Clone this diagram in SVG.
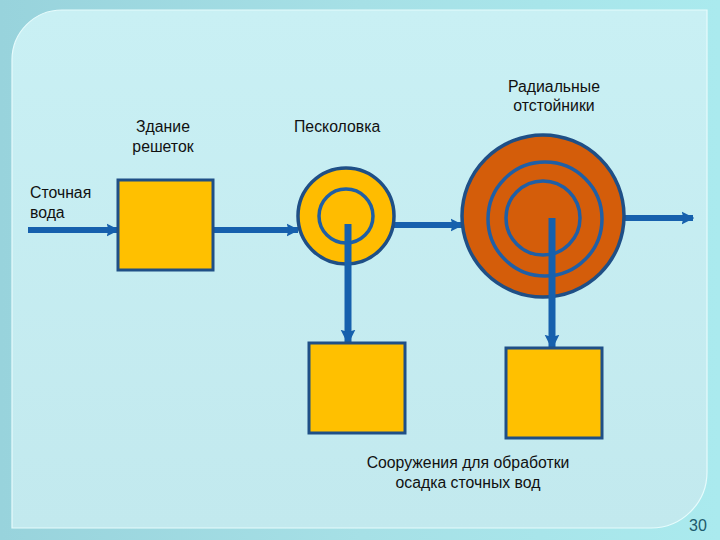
<svg xmlns="http://www.w3.org/2000/svg" width="720" height="540" viewBox="0 0 720 540">
<defs>
<linearGradient id="bg" x1="0" y1="0" x2="1" y2="0">
<stop offset="0" stop-color="#98d3dc"/>
<stop offset="0.5" stop-color="#a6e0e6"/>
<stop offset="1" stop-color="#aaeaee"/>
</linearGradient>
<linearGradient id="panel" x1="0" y1="0" x2="0" y2="1">
<stop offset="0" stop-color="#c9f0f4"/>
<stop offset="1" stop-color="#c2e9ee"/>
</linearGradient>
<marker id="ah" viewBox="0 0 10 10" refX="9" refY="5" markerWidth="2.1" markerHeight="2.4" orient="auto" markerUnits="strokeWidth">
<path d="M0,0 L10,5 L0,10 L1.5,5 Z" fill="#1660ad"/>
</marker>
</defs>
<style>
.t{font-family:"Liberation Sans",Arial,sans-serif;font-size:15.8px;fill:#111}
.box{fill:#ffc000;stroke:#1f4f86;stroke-width:3}
.pipe{stroke:#1660ad;stroke-width:6;fill:none}
.vpipe{stroke:#1660ad;stroke-width:7;fill:none}
.ring{fill:none;stroke:#1f5fa6;stroke-width:3.5}
</style>
<rect x="0" y="0" width="720" height="540" fill="url(#bg)"/>
<path d="M12,60 A50,50 0 0 1 62,10 L707,10 L707,472 A56,56 0 0 1 651,528 L12,528 Z" fill="url(#panel)" stroke="#e6fbfc" stroke-width="1.2"/>
<g id="connectors">
<line class="pipe" x1="28" y1="230" x2="118" y2="230" marker-end="url(#ah)"/>
<line class="pipe" x1="213" y1="230" x2="298" y2="230" marker-end="url(#ah)"/>
<line class="pipe" x1="394" y1="225" x2="462" y2="225" marker-end="url(#ah)"/>
<line class="pipe" x1="624" y1="218" x2="693" y2="218" marker-end="url(#ah)"/>
</g>
<g id="box-reshetok"><rect class="box" x="118" y="180" width="95" height="90"/></g>
<g id="peskolovka">
<circle cx="346" cy="216" r="48" fill="#ffbc00" stroke="#1f4f86" stroke-width="3.5"/>
<circle class="ring" cx="346" cy="216" r="27"/>
</g>
<g id="otstoiniki">
<circle cx="543" cy="216" r="81" fill="#d45d0a" stroke="#1f4f86" stroke-width="3.5"/>
<circle class="ring" cx="545" cy="219" r="57"/>
<circle class="ring" cx="543" cy="218" r="37"/>
</g>
<g id="connectors-down">
<line class="vpipe" x1="348" y1="224" x2="348" y2="343" marker-end="url(#ah)"/>
<line class="vpipe" x1="552" y1="218" x2="552" y2="348" marker-end="url(#ah)"/>
</g>
<g id="box-osadok-1"><rect class="box" x="309" y="343" width="96" height="90"/></g>
<g id="box-osadok-2"><rect class="box" x="506" y="348" width="96" height="90"/></g>
<g id="labels">
<text class="t" x="163" y="132" text-anchor="middle">Здание</text>
<text class="t" x="163" y="152" text-anchor="middle">решеток</text>
<text class="t" x="294" y="132">Песколовка</text>
<text class="t" x="554" y="92" text-anchor="middle">Радиальные</text>
<text class="t" x="554" y="111" text-anchor="middle">отстойники</text>
<text class="t" x="30" y="198">Сточная</text>
<text class="t" x="30" y="218">вода</text>
<text class="t" x="468" y="468" text-anchor="middle">Сооружения для обработки</text>
<text class="t" x="468" y="488" text-anchor="middle">осадка сточных вод</text>
<text x="698" y="531" text-anchor="middle" style="font-family:'Liberation Sans',Arial,sans-serif;font-size:16px;fill:#1d5a6c">30</text>
</g>
</svg>
